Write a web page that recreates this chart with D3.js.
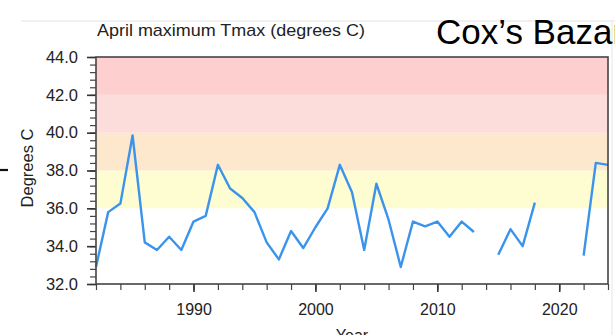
<!DOCTYPE html>
<html>
<head>
<meta charset="utf-8">
<script src="https://cdn.jsdelivr.net/npm/d3@7"></script>
<style>
  body { margin: 0; background: #fff; }
  svg { display: block; font-family: "Liberation Sans", Arial, Helvetica, sans-serif; }
  .tick text { fill: #222; }
</style>
</head>
<body>
<svg width="615" height="335"></svg>
<script>
// April maximum Tmax, Cox's Bazar (null = missing year)
var years = [1982, 1983, 1984, 1985, 1986, 1987, 1988, 1989, 1990, 1991,
  1992, 1993, 1994, 1995, 1996, 1997, 1998, 1999, 2000, 2001,
  2002, 2003, 2004, 2005, 2006, 2007, 2008, 2009, 2010, 2011,
  2012, 2013, 2014, 2015, 2016, 2017, 2018, 2019, 2020, 2021,
  2022, 2023, 2024];
var tmax = [32.9, 35.8, 36.25, 39.85, 34.2, 33.8, 34.5, 33.8, 35.3, 35.6,
  38.3, 37.05, 36.55, 35.8, 34.2, 33.3, 34.8, 33.9, 35.0, 36.0,
  38.3, 36.85, 33.8, 37.3, 35.4, 32.9, 35.3, 35.05, 35.3, 34.5,
  35.3, 34.75, null, 33.55, 34.9, 34.0, 36.3, null, null, null,
  33.5, 38.4, 38.3];

// threshold bands (lower edges + top) and their shading
var bandEdges = [36, 38, 40, 42, 44];
var bandColors = ['#fefdd1', '#fde8cd', '#fcdddb', '#fdcfcf'];

var yTicks = [32, 34, 36, 38, 40, 42, 44];
var xTicks = [1990, 2000, 2010, 2020];

var svg = d3.select('svg');

var margin = { top: 57, right: 7, bottom: 51, left: 96 };
var width = 615 - margin.left - margin.right;
var height = 335 - margin.top - margin.bottom;

// slide-ish frame lines
svg.append('line')
  .attr('x1', 21).attr('x2', 615)
  .attr('y1', 21).attr('y2', 21)
  .attr('stroke', '#e2e2e2').attr('stroke-width', 1);
svg.append('line')
  .attr('x1', 612).attr('x2', 612)
  .attr('y1', 21).attr('y2', 335)
  .attr('stroke', '#e6e6e6').attr('stroke-width', 1);

var g = svg.append('g')
  .attr('transform', 'translate(' + margin.left + ',' + margin.top + ')');

var x = d3.scaleLinear().domain([1982, 2024]).range([0, width]);
var y = d3.scaleLinear().domain([32, 44]).range([height, 0]);

// bands
var bands = bandColors.map(function (c, i) {
  return { lo: bandEdges[i], hi: bandEdges[i + 1], color: c };
});
g.selectAll('rect.band')
  .data(bands)
  .join('rect')
  .attr('class', 'band')
  .attr('x', 0)
  .attr('width', width)
  .attr('y', function (d) { return y(d.hi); })
  .attr('height', function (d) { return y(d.lo) - y(d.hi); })
  .attr('fill', function (d) { return d.color; });

// line
var data = years.map(function (yr, i) { return { year: yr, value: tmax[i] }; });
var line = d3.line()
  .defined(function (d) { return d.value != null; })
  .x(function (d) { return x(d.year); })
  .y(function (d) { return y(d.value); });

g.append('path')
  .datum(data)
  .attr('d', line)
  .attr('fill', 'none')
  .attr('stroke', '#3a94ec')
  .attr('stroke-width', 2.4)
  .attr('stroke-linejoin', 'round');

// minor ticks
var yMinor = d3.range(32, 44.001, 0.4);
g.append('g')
  .call(d3.axisLeft(y).tickValues(yMinor).tickSize(6).tickFormat(''))
  .call(function (a) { a.select('.domain').remove(); })
  .selectAll('line').attr('stroke', '#444').attr('stroke-width', 1.2);

var xMinor = d3.range(1982, 2025, 2);
g.append('g')
  .attr('transform', 'translate(0,' + height + ')')
  .call(d3.axisBottom(x).tickValues(xMinor).tickSize(6).tickFormat(''))
  .call(function (a) { a.select('.domain').remove(); })
  .selectAll('line').attr('stroke', '#444').attr('stroke-width', 1.2);

// major axes
var yAxis = g.append('g')
  .call(d3.axisLeft(y).tickValues(yTicks).tickSize(9).tickPadding(9).tickFormat(d3.format('.1f')));
yAxis.select('.domain').remove();
yAxis.selectAll('line').attr('stroke', '#333').attr('stroke-width', 1.6);
yAxis.selectAll('text').style('font-size', '16.5px');

var xAxis = g.append('g')
  .attr('transform', 'translate(0,' + height + ')')
  .call(d3.axisBottom(x).tickValues(xTicks).tickSize(8).tickPadding(12).tickFormat(d3.format('d')));
xAxis.select('.domain').remove();
xAxis.selectAll('line').attr('stroke', '#333').attr('stroke-width', 1.6);
xAxis.selectAll('text').style('font-size', '16px');

// frame
g.append('rect')
  .attr('width', width)
  .attr('height', height)
  .attr('fill', 'none')
  .attr('stroke', '#444')
  .attr('stroke-width', 1.6);

// titles
svg.append('text')
  .attr('x', 97)
  .attr('y', 36)
  .style('font-size', '17px')
  .attr('textLength', 268)
  .attr('lengthAdjust', 'spacingAndGlyphs')
  .attr('fill', '#222')
  .text('April maximum Tmax (degrees C)');

svg.append('text')
  .attr('x', 436)
  .attr('y', 44)
  .style('font-size', '35px')
  .attr('fill', '#000')
  .text('Cox\u2019s Bazar');

svg.append('text')
  .attr('transform', 'translate(33,168) rotate(-90)')
  .attr('text-anchor', 'middle')
  .style('font-size', '16.5px')
  .attr('fill', '#222')
  .text('Degrees C');

svg.append('text')
  .attr('x', margin.left + width / 2)
  .attr('y', 341)
  .attr('text-anchor', 'middle')
  .style('font-size', '16px')
  .attr('fill', '#222')
  .text('Year');

// stray dash at far left
svg.append('line')
  .attr('x1', 0).attr('x2', 8)
  .attr('y1', 170).attr('y2', 170)
  .attr('stroke', '#111').attr('stroke-width', 2.2);
</script>
</body>
</html>
